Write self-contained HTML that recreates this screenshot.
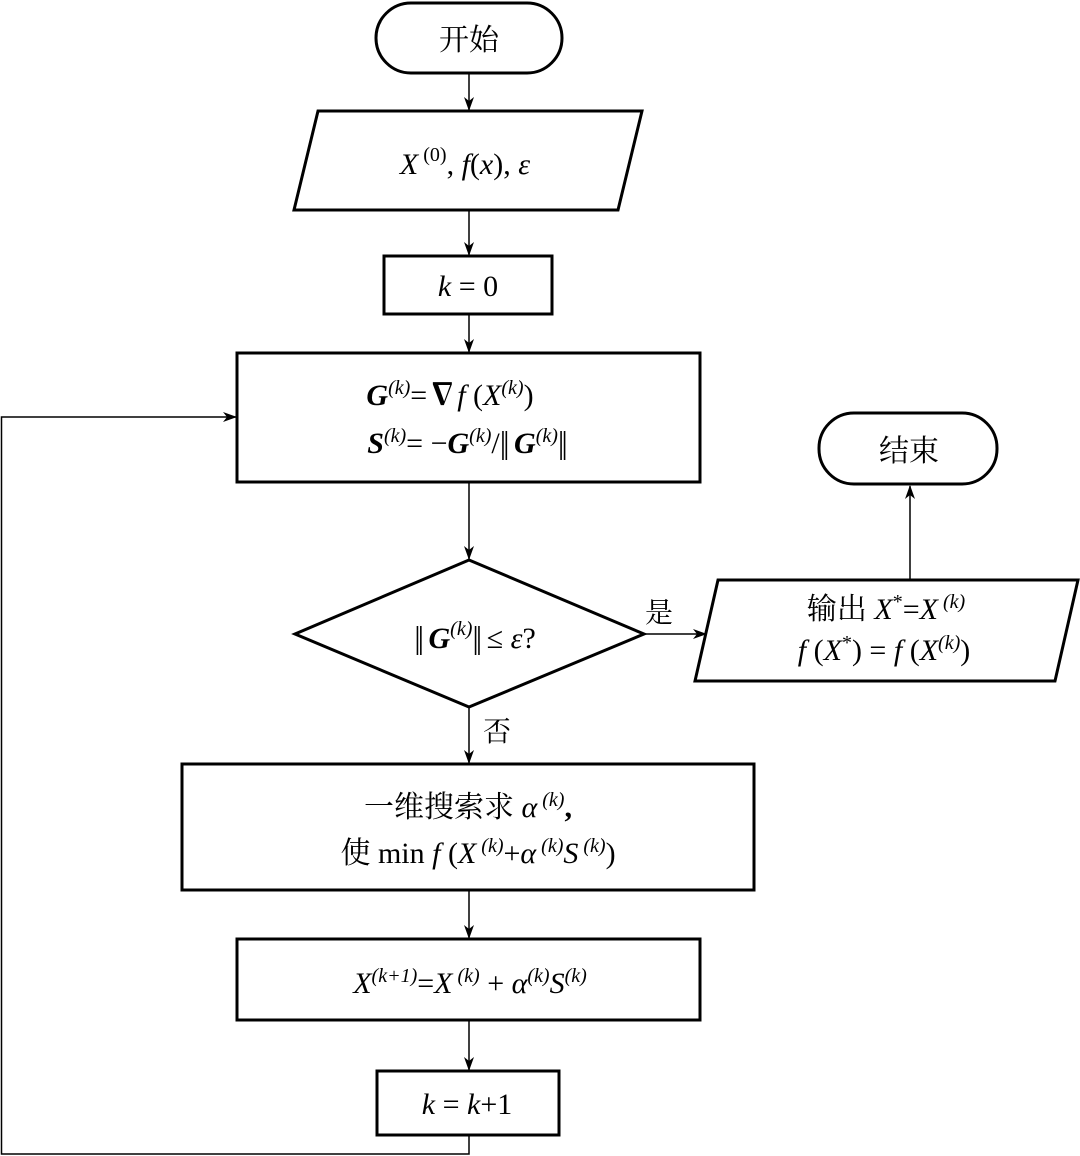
<!DOCTYPE html>
<html><head><meta charset="utf-8"><style>
html,body{margin:0;padding:0;background:#fff;}
svg{display:block}
text{font-family:"Liberation Serif","Noto Serif CJK SC",serif;fill:#000;}
.cj{font-family:"Liberation Serif","Noto Serif CJK SC",serif;}
.n{font-size:32px;font-style:normal;font-weight:normal;letter-spacing:-3px}
</style></head><body>
<svg width="1080" height="1156" viewBox="0 0 1080 1156" xmlns="http://www.w3.org/2000/svg">
<defs><marker id="a" markerWidth="14" markerHeight="10" refX="13" refY="5" orient="auto" markerUnits="userSpaceOnUse"><path d="M0,0 L14,5 L0,10 L4,5 Z" fill="#000"/></marker></defs>
<g fill="none" stroke="#000" stroke-width="3">
<rect x="376" y="3" width="186" height="70" rx="35"/>
<polygon points="318,111 642,111 618,210 294,210"/>
<rect x="384" y="256" width="168" height="58"/>
<rect x="237" y="353" width="463" height="129"/>
<polygon points="469,560 644,634 469,707 295,634"/>
<polygon points="718,580 1078,580 1055,681 695,681"/>
<rect x="819" y="413" width="178" height="71" rx="35"/>
<rect x="182" y="764" width="572" height="126"/>
<rect x="237" y="939" width="463" height="81"/>
<rect x="377" y="1071" width="182" height="64"/>
</g>
<g fill="none" stroke="#000" stroke-width="1.5">
<line x1="469" y1="73" x2="469" y2="110" marker-end="url(#a)"/>
<line x1="469" y1="210" x2="469" y2="255" marker-end="url(#a)"/>
<line x1="469" y1="314" x2="469" y2="352" marker-end="url(#a)"/>
<line x1="469" y1="482" x2="469" y2="559" marker-end="url(#a)"/>
<line x1="644" y1="634" x2="706" y2="634" marker-end="url(#a)"/>
<line x1="910" y1="580" x2="910" y2="486" marker-end="url(#a)"/>
<line x1="469" y1="707" x2="469" y2="763" marker-end="url(#a)"/>
<line x1="469" y1="890" x2="469" y2="938" marker-end="url(#a)"/>
<line x1="469" y1="1020" x2="469" y2="1070" marker-end="url(#a)"/>
<polyline points="469,1135 469,1154 1.5,1154 1.5,417 236,417" marker-end="url(#a)"/>
</g>
<text class="cj" x="469" y="50" font-size="30" text-anchor="middle">开始</text>
<text x="465" y="174" font-size="30" text-anchor="middle" font-style="italic">X<tspan font-style="normal" font-size="20" dy="-13"> (0)</tspan><tspan dy="13" font-style="normal">, </tspan>f<tspan font-style="normal">(</tspan>x<tspan font-style="normal">), </tspan>ε</text>
<text x="468" y="296" font-size="30" text-anchor="middle"><tspan font-style="italic">k</tspan> = 0</text>
<text x="450" y="405" font-size="30" text-anchor="middle"><tspan font-weight="bold" font-style="italic">G</tspan><tspan font-size="20" font-style="italic" dy="-11">(k)</tspan><tspan dy="11">=</tspan><tspan font-weight="bold">∇</tspan><tspan font-style="italic">f</tspan> (<tspan font-style="italic">X</tspan><tspan font-size="20" font-style="italic" dy="-11">(k)</tspan><tspan dy="11">)</tspan></text>
<text x="466" y="453" font-size="30" text-anchor="middle"><tspan font-weight="bold" font-style="italic">S</tspan><tspan font-size="20" font-style="italic" dy="-11">(k)</tspan><tspan dy="11">= −</tspan><tspan font-weight="bold" font-style="italic">G</tspan><tspan font-size="20" font-style="italic" dy="-11">(k)</tspan><tspan dy="11">/</tspan><tspan class="n">||</tspan><tspan font-weight="bold" font-style="italic"> G</tspan><tspan font-size="20" font-style="italic" dy="-11">(k)</tspan><tspan dy="11" class="n">||</tspan></text>
<text x="475" y="648" font-size="30" text-anchor="middle"><tspan class="n">||</tspan><tspan font-weight="bold" font-style="italic"> G</tspan><tspan font-size="20" font-style="italic" dy="-13">(k)</tspan><tspan dy="13" class="n">||</tspan> ≤ <tspan font-style="italic">ε</tspan>?</text>
<text class="cj" x="645" y="622" font-size="28">是</text>
<text class="cj" x="483" y="741" font-size="28">否</text>
<text x="886" y="619" font-size="30" text-anchor="middle"><tspan class="cj">输出 </tspan><tspan font-style="italic">X</tspan><tspan font-size="20" dy="-11">*</tspan><tspan dy="11">=</tspan><tspan font-style="italic">X</tspan><tspan font-size="20" font-style="italic" dy="-11"> (k)</tspan></text>
<text x="884" y="660" font-size="30" text-anchor="middle"><tspan font-style="italic">f</tspan> (<tspan font-style="italic">X</tspan><tspan font-size="20" dy="-11">*</tspan><tspan dy="11">) = </tspan><tspan font-style="italic">f</tspan> (<tspan font-style="italic">X</tspan><tspan font-size="20" font-style="italic" dy="-11">(k)</tspan><tspan dy="11">)</tspan></text>
<text class="cj" x="909" y="461" font-size="30" text-anchor="middle">结束</text>
<text x="468" y="817" font-size="30" text-anchor="middle"><tspan class="cj">一维搜索求 </tspan><tspan font-style="italic">α</tspan><tspan font-size="20" font-style="italic" dy="-11"> (k)</tspan><tspan dy="11" font-weight="bold">,</tspan></text>
<text x="478" y="863" font-size="30" text-anchor="middle"><tspan class="cj">使 </tspan>min <tspan font-style="italic">f</tspan> (<tspan font-style="italic">X</tspan><tspan font-size="20" font-style="italic" dy="-11"> (k)</tspan><tspan dy="11">+</tspan><tspan font-style="italic">α</tspan><tspan font-size="20" font-style="italic" dy="-11"> (k)</tspan><tspan dy="11" font-style="italic">S</tspan><tspan font-size="20" font-style="italic" dy="-11"> (k)</tspan><tspan dy="11">)</tspan></text>
<text x="470" y="993" font-size="30" text-anchor="middle"><tspan font-style="italic">X</tspan><tspan font-size="20" font-style="italic" dy="-11">(k+1)</tspan><tspan dy="11">=</tspan><tspan font-style="italic">X</tspan><tspan font-size="20" font-style="italic" dy="-11"> (k)</tspan><tspan dy="11"> + </tspan><tspan font-style="italic">α</tspan><tspan font-size="20" font-style="italic" dy="-11">(k)</tspan><tspan dy="11" font-style="italic">S</tspan><tspan font-size="20" font-style="italic" dy="-11">(k)</tspan></text>
<text x="467" y="1114" font-size="30" text-anchor="middle"><tspan font-style="italic">k</tspan> = <tspan font-style="italic">k</tspan>+1</text>
</svg>
</body></html>
